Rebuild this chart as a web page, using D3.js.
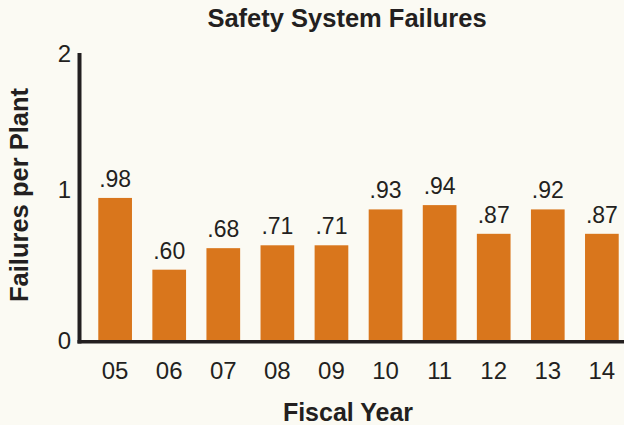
<!doctype html>
<html>
<head>
<meta charset="utf-8">
<title>Safety System Failures</title>
<script src="https://d3js.org/d3.v7.min.js"></script>
<style>
  body { margin: 0; background: #fbfaf3; }
  svg { display: block; font-family: "Liberation Sans", Arial, sans-serif; }
  .bar { fill: #d9761c; }
  .lbl { fill: #231f20; }
</style>
</head>
<body>
<div id="chart"></div>
<script>
// fiscal years and bar heights as drawn, plus the printed value labels
var years = ["05", "06", "07", "08", "09", "10", "11", "12", "13", "14"];
var barValues = [0.99, 0.49, 0.64, 0.66, 0.66, 0.91, 0.94, 0.74, 0.91, 0.74];
var valueLabels = [".98", ".60", ".68", ".71", ".71", ".93", ".94", ".87", ".92", ".87"];
var yTicks = [0, 1, 2];

var W = 624, H = 425;

var svg = d3.select("#chart").append("svg")
    .attr("width", W)
    .attr("height", H);

var x = d3.scaleBand()
    .domain(years)
    .range([80, 637])
    .paddingInner(0.377)
    .paddingOuter(0.338);

var y = d3.scaleLinear()
    .domain([0, 2])
    .range([340, 53]);

// bars
svg.selectAll(".bar")
    .data(years)
  .enter().append("rect")
    .attr("class", "bar")
    .attr("x", function(d) { return x(d); })
    .attr("width", x.bandwidth())
    .attr("y", function(d, i) { return y(barValues[i]); })
    .attr("height", function(d, i) { return y(0) - y(barValues[i]); });

// value labels
svg.selectAll(".val")
    .data(years)
  .enter().append("text")
    .attr("class", "lbl")
    .attr("x", function(d) { return x(d) + x.bandwidth() / 2; })
    .attr("y", function(d, i) { return y(barValues[i]) - 11; })
    .attr("text-anchor", "middle")
    .style("font-size", "23px")
    .text(function(d, i) { return valueLabels[i]; });

// axes lines
svg.append("line")
    .attr("x1", 79.5).attr("x2", 79.5)
    .attr("y1", y(2)).attr("y2", 343.5)
    .attr("stroke", "#231f20").attr("stroke-width", 4);

svg.append("line")
    .attr("x1", 77.5).attr("x2", W)
    .attr("y1", 341.7).attr("y2", 341.7)
    .attr("stroke", "#231f20").attr("stroke-width", 3.6);

// y tick labels (the "1" sits a little above its gridline in the original)
svg.selectAll(".ytick")
    .data(yTicks)
  .enter().append("text")
    .attr("class", "lbl")
    .attr("x", 71)
    .attr("y", function(d) { return d === 1 ? y(d) - 7 : y(d); })
    .attr("dy", "0.36em")
    .attr("text-anchor", "end")
    .style("font-size", "24px")
    .text(function(d) { return d; });

// x tick labels
svg.selectAll(".xtick")
    .data(years)
  .enter().append("text")
    .attr("class", "lbl")
    .attr("x", function(d) { return x(d) + x.bandwidth() / 2; })
    .attr("y", 378.5)
    .attr("text-anchor", "middle")
    .style("font-size", "24px")
    .text(function(d) { return d; });

// title and axis titles
svg.append("text")
    .attr("class", "lbl")
    .attr("x", 347).attr("y", 27)
    .attr("text-anchor", "middle")
    .style("font-size", "25.5px").style("font-weight", "bold")
    .text("Safety System Failures");

svg.append("text")
    .attr("class", "lbl")
    .attr("x", 348).attr("y", 421)
    .attr("text-anchor", "middle")
    .style("font-size", "25px").style("font-weight", "bold")
    .text("Fiscal Year");

svg.append("text")
    .attr("class", "lbl")
    .attr("transform", "translate(28,195) rotate(-90)")
    .attr("text-anchor", "middle")
    .style("font-size", "25.5px").style("font-weight", "bold")
    .text("Failures per Plant");
</script>
</body>
</html>
